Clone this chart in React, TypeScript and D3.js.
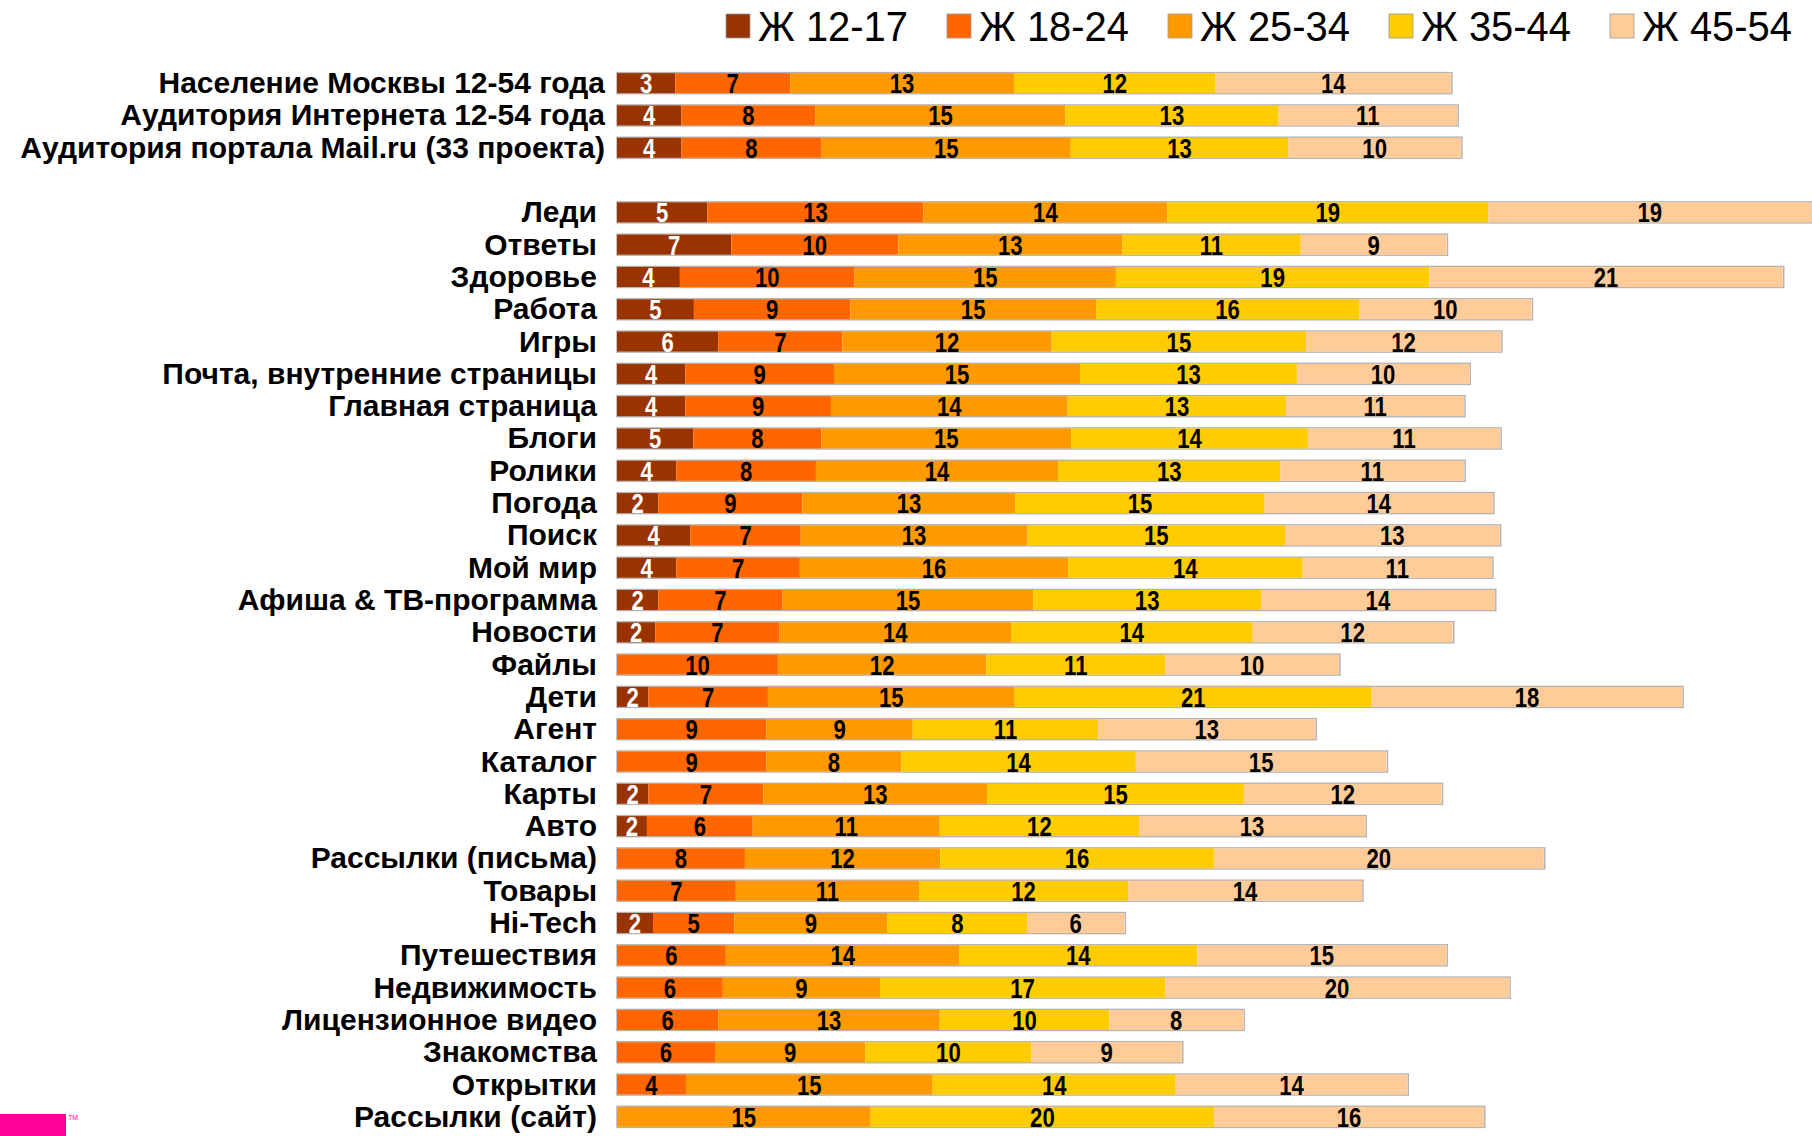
import React from "react";
import * as d3 from "d3";

const categories: string[] = [
  "Население Москвы 12-54 года",
  "Аудитория Интернета 12-54 года",
  "Аудитория портала Mail.ru (33 проекта)",
  " ",
  "Леди",
  "Ответы",
  "Здоровье",
  "Работа",
  "Игры",
  "Почта, внутренние страницы",
  "Главная страница",
  "Блоги",
  "Ролики",
  "Погода",
  "Поиск",
  "Мой мир",
  "Афиша & ТВ-программа",
  "Новости",
  "Файлы",
  "Дети",
  "Агент",
  "Каталог",
  "Карты",
  "Авто",
  "Рассылки (письма)",
  "Товары",
  "Hi-Tech",
  "Путешествия",
  "Недвижимость",
  "Лицензионное видео",
  "Знакомства",
  "Открытки",
  "Рассылки (сайт)",
];

const seriesNames: string[] = ["Ж 12-17", "Ж 18-24", "Ж 25-34", "Ж 35-44", "Ж 45-54"];
const seriesColors: string[] = ["#993300", "#FF6600", "#FF9900", "#FFCC00", "#FFCC99"];

const f12_17: number[] = [3.45, 3.81, 3.81, 0, 5.35, 6.76, 3.72, 4.55, 5.99, 4.04, 4.04, 4.52, 3.52, 2.45, 4.35, 3.52, 2.45, 2.27, 0, 1.86, 0, 0, 1.86, 1.77, 0, 0, 2.13, 0, 0, 0, 0, 0, 0];
const f18_24: number[] = [6.8, 7.94, 8.3, 0, 12.79, 9.89, 10.34, 9.25, 7.35, 8.8, 8.62, 7.57, 8.25, 8.52, 6.52, 7.3, 7.35, 7.35, 9.52, 7.07, 8.84, 8.84, 6.8, 6.26, 7.57, 7.03, 4.81, 6.44, 6.26, 5.99, 5.8, 4.08, 0];
const f25_34: number[] = [13.24, 14.78, 14.74, 0, 14.42, 13.24, 15.46, 14.55, 12.38, 14.56, 14.01, 14.78, 14.33, 12.61, 13.42, 15.87, 14.83, 13.7, 12.34, 14.6, 8.66, 7.98, 13.24, 11.07, 11.56, 10.84, 9.07, 13.83, 9.3, 13.11, 8.89, 14.6, 15.01];
const f35_44: number[] = [11.93, 12.61, 12.88, 0, 19.0, 10.57, 18.55, 15.56, 15.06, 12.83, 12.93, 14.01, 13.15, 14.74, 15.24, 13.88, 13.48, 14.29, 10.57, 21.13, 10.98, 13.88, 15.19, 11.79, 16.19, 12.38, 8.25, 14.06, 16.87, 10.02, 9.84, 14.38, 20.32];
const f45_54: number[] = [13.92, 10.57, 10.2, 0, 19.1, 8.62, 20.91, 10.2, 11.52, 10.2, 10.52, 11.38, 10.88, 13.51, 12.7, 11.2, 13.83, 11.84, 10.29, 18.37, 12.83, 14.83, 11.7, 13.38, 19.52, 13.83, 5.76, 14.74, 20.36, 7.94, 8.89, 13.7, 15.96];

const W = 1812;
const H = 1136;

export default function App() {
  const series = [f12_17, f18_24, f25_34, f35_44, f45_54];
  const rows = categories.map((c, i) => {
    const o: any = { cat: c, idx: i };
    seriesNames.forEach((s, k) => (o[s] = series[k][i]));
    return o;
  });
  const stack = d3.stack<any>().keys(seriesNames)(rows);

  const x = d3.scaleLinear().domain([0, 70]).range([617, 1800]);
  const y = d3.scaleBand<string>().domain(categories).range([67, 1133]).paddingInner(0.38).paddingOuter(0.19);
  const bh = y.bandwidth();

  return (
    <div style={{ position: "absolute", left: 0, top: 0, width: W, height: H, overflow: "hidden" }}>
      <svg width={W} height={H} style={{ display: "block", background: "#fff" }} fontFamily="'Liberation Sans', Arial, sans-serif">
        {/* legend */}
        {seriesNames.map((s, k) => {
          const lx = 726 + k * 221;
          const tx = lx + 32;
          return (
            <g key={s}>
              <rect x={lx} y={14} width={24} height={24} fill={seriesColors[k]} stroke="#9a9a9a" strokeWidth={0.8} />
              <text x={0} y={0} fontSize={42} fill="#000" transform={`translate(${tx},41) scale(0.95,1)`}>
                {s}
              </text>
            </g>
          );
        })}

        {/* bar outlines */}
        {rows.map((r) => {
          if (r.cat.trim() === "") return null;
          const total = seriesNames.reduce((a, s) => a + r[s], 0);
          const yy = y(r.cat) as number;
          return (
            <rect key={"o" + r.idx} x={x(0)} y={yy - 0.5} width={x(total) - x(0) + 1} height={bh + 1} fill="none" stroke="#b4b4b4" strokeWidth={1.5} />
          );
        })}

        {/* segments */}
        {stack.map((layer, k) => (
          <g key={layer.key} fill={seriesColors[k]}>
            {layer.map((d, i) => {
              const v = d[1] - d[0];
              if (v <= 0) return null;
              return <rect key={i} x={x(d[0])} y={y(categories[i]) as number} width={x(d[1]) - x(d[0])} height={bh} />;
            })}
          </g>
        ))}

        {/* value labels */}
        {stack.map((layer, k) => (
          <g key={"l" + layer.key} fill={k === 0 ? "#fff" : "#000"} fontWeight="bold" fontSize={27} textAnchor="middle">
            {layer.map((d, i) => {
              const v = d[1] - d[0];
              if (v <= 0) return null;
              const cx = (x(d[0]) + x(d[1])) / 2;
              const cy = (y(categories[i]) as number) + bh / 2 + 10;
              return (
                <text key={i} x={0} y={0} transform={`translate(${cx},${cy}) scale(0.82,1)`}>
                  {Math.round(v)}
                </text>
              );
            })}
          </g>
        ))}

        {/* category labels */}
        <g fontWeight="bold" fontSize={30} textAnchor="end" fill="#000">
          {categories.map((c, i) => {
            if (c.trim() === "") return null;
            const tx = i < 3 ? 605 : 597;
            return (
              <text key={c} x={tx} y={(y(c) as number) + bh / 2 + 10}>
                {c}
              </text>
            );
          })}
        </g>

        {/* logo */}
        <rect x={0} y={1114} width={66} height={22} fill="#FF0099" />
        <text x={68} y={1120} fontSize={7} fill="#FF0099">TM</text>
      </svg>
    </div>
  );
}
